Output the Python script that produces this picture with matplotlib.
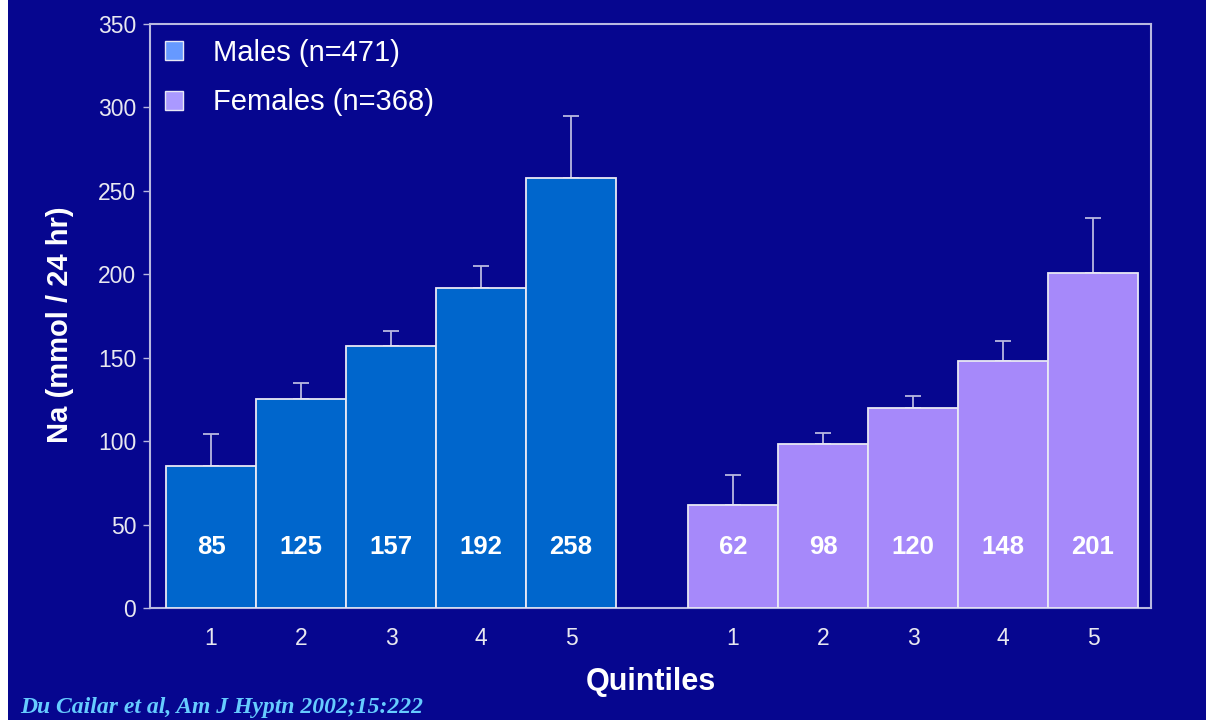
import matplotlib
matplotlib.use("Agg")
import matplotlib.pyplot as plt
from matplotlib.patches import Rectangle, Patch
import numpy as np

plt.rcParams['font.family'] = ['Liberation Sans', 'DejaVu Sans']

quintiles = ["1", "2", "3", "4", "5"]
males = [85, 125, 157, 192, 258]
males_err = [19, 10, 9, 13, 37]
females = [62, 98, 120, 148, 201]
females_err = [18, 7, 7, 12, 33]
male_label = "Males (n=471)"
female_label = "Females (n=368)"
ylabel = "Na (mmol / 24 hr)"
xlabel = "Quintiles"
citation = "Du Cailar et al, Am J Hyptn 2002;15:222"

BG = "#06068F"
MALE_C = "#0066CC"
FEMALE_C = "#A689FA"
EDGE = "#E8E8F4"
SPINE = "#B8B8E0"

fig = plt.figure(figsize=(12.06, 7.2), dpi=100)
fig.patch.set_facecolor(BG)
fig.patches.append(Rectangle((0, 0), 8/1206, 1, transform=fig.transFigure,
                             facecolor="white", edgecolor="none", zorder=10))

ax = fig.add_axes([150/1206, 1 - 608/720, (1151-150)/1206, (608-24)/720])
ax.set_facecolor(BG)

xm = np.arange(5)
xf = np.arange(5) + 5.8
ax.bar(xm, males, width=1.0, color=MALE_C, edgecolor=EDGE, linewidth=1.3, zorder=3)
ax.bar(xf, females, width=1.0, color=FEMALE_C, edgecolor=EDGE, linewidth=1.3, zorder=3)
ax.errorbar(xm, males, yerr=[np.zeros(5), males_err], fmt="none", ecolor=SPINE,
            elinewidth=1.3, capsize=5.5, capthick=1.3, zorder=2)
ax.errorbar(xf, females, yerr=[np.zeros(5), females_err], fmt="none", ecolor=SPINE,
            elinewidth=1.3, capsize=5.5, capthick=1.3, zorder=2)

for x, v in zip(xm, males):
    ax.text(x, 36.5, str(v), ha="center", va="center", color="white",
            fontsize=18.5, fontweight="bold", zorder=5)
for x, v in zip(xf, females):
    ax.text(x, 36.5, str(v), ha="center", va="center", color="white",
            fontsize=18.5, fontweight="bold", zorder=5)

ax.set_xlim(-0.678, 10.444)
ax.set_ylim(0, 350)
ax.set_yticks(np.arange(0, 351, 50))
ax.set_xticks(list(xm) + list(xf))
ax.set_xticklabels(quintiles + quintiles)
ax.tick_params(axis="y", colors=SPINE, labelcolor="#E8E8F0", labelsize=16.5,
               length=5, width=1, direction="out", pad=5)
ax.tick_params(axis="x", length=0, labelcolor="#E8E8F0", labelsize=16.5, pad=14)
for s in ax.spines.values():
    s.set_color(SPINE)
    s.set_linewidth(1.5)

ax.set_ylabel(ylabel, color="white", fontsize=21, fontweight="bold")
ax.yaxis.set_label_coords(-0.076, 0.485)
ax.set_xlabel(xlabel, color="white", fontsize=22, fontweight="bold", labelpad=12)

handles = [Patch(facecolor="#6699FF", edgecolor=EDGE, linewidth=1),
           Patch(facecolor="#AA99FF", edgecolor=EDGE, linewidth=1)]
leg = ax.legend(handles, [male_label, female_label], loc="upper left",
                bbox_to_anchor=(-0.005, 1.01), frameon=False, fontsize=21,
                labelcolor="white", handlelength=0.62, handleheight=0.62,
                handletextpad=1.0, labelspacing=0.75, borderaxespad=0.3)

fig.text(20/1206, 1 - 708/720, citation, color="#66CCFF", fontsize=17,
         family=["Liberation Serif", "DejaVu Serif"], style="italic",
         fontweight="bold", ha="left", va="center")

fig.savefig("out.png", dpi=100, facecolor=BG)
